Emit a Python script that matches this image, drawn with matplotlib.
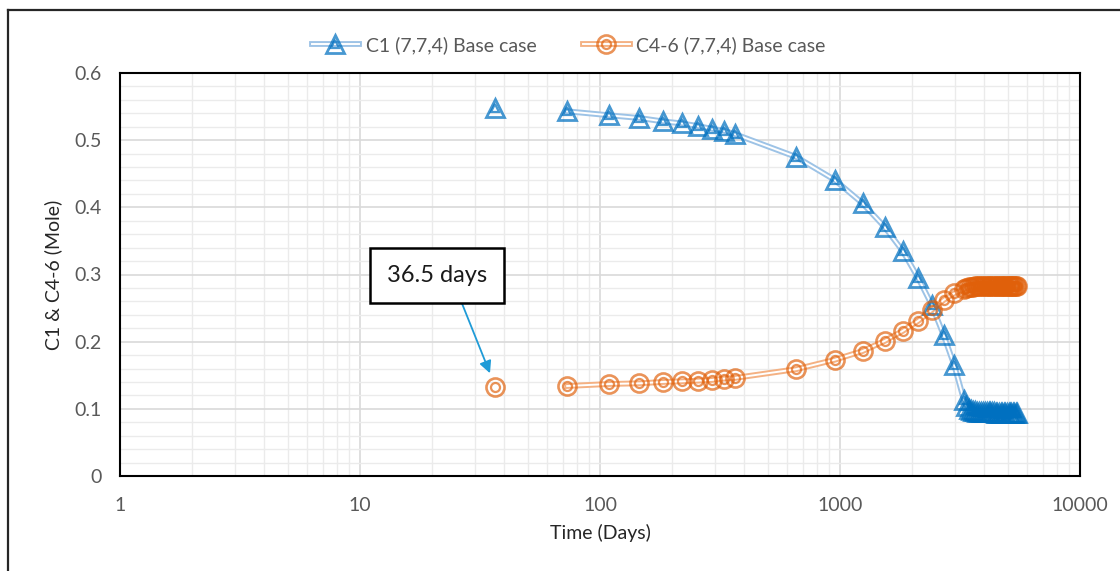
import matplotlib
matplotlib.use("Agg")
import matplotlib.pyplot as plt
import matplotlib.patheffects as pe
from matplotlib.lines import Line2D
from matplotlib.ticker import FixedLocator, FixedFormatter, NullFormatter
from matplotlib.legend_handler import HandlerTuple

plt.rcParams['font.family'] = ['Lato', 'DejaVu Sans']

# time (days)
time_days = [36.5, 73, 109.5, 146, 182.5, 219, 255.5, 292, 328.5, 365,
             657, 949, 1241, 1533, 1825, 2117, 2409, 2701, 2993, 3285,
             3358, 3431, 3504, 3577, 3650, 3723, 3796, 3869, 3942, 4015,
             4088, 4161, 4234, 4307, 4380, 4453, 4526, 4599, 4672, 4745,
             4818, 4891, 4964, 5037, 5110, 5183, 5256, 5329, 5402, 5475]

# C1 mole fraction
c1 = [0.548, 0.543, 0.537, 0.533, 0.528, 0.525, 0.521, 0.517, 0.514, 0.509,
      0.475, 0.441, 0.406, 0.371, 0.335, 0.295, 0.255, 0.210, 0.165, 0.113,
      0.104, 0.100, 0.098, 0.097, 0.097, 0.096, 0.096, 0.096, 0.095, 0.095,
      0.095, 0.095, 0.095, 0.095, 0.095, 0.094, 0.094, 0.094, 0.094, 0.094,
      0.094, 0.094, 0.094, 0.094, 0.094, 0.094, 0.094, 0.094, 0.094, 0.094]

# C4-6 mole fraction
c46 = [0.132, 0.134, 0.137, 0.138, 0.140, 0.141, 0.142, 0.143, 0.145, 0.146,
       0.159, 0.173, 0.186, 0.201, 0.216, 0.231, 0.247, 0.262, 0.272, 0.278,
       0.280, 0.281, 0.282, 0.282, 0.283, 0.283, 0.283, 0.283, 0.283, 0.283,
       0.283, 0.283, 0.283, 0.283, 0.283, 0.283, 0.283, 0.283, 0.283, 0.283,
       0.283, 0.283, 0.283, 0.283, 0.283, 0.283, 0.283, 0.283, 0.283, 0.283]

x_ticks = [1, 10, 100, 1000, 10000]
x_labels = ['1', '10', '100', '1000', '10000']
y_ticks = [0, 0.1, 0.2, 0.3, 0.4, 0.5, 0.6]
y_labels = ['0', '0.1', '0.2', '0.3', '0.4', '0.5', '0.6']

blue = '#0070C0'
orange = '#E0600A'
blue_line = '#9DC3E6'
orange_line = '#F4B183'
txt = '#595959'

fig = plt.figure(figsize=(11.2, 5.71), dpi=100)
ax = fig.add_axes([120/1120, 1-476/571, 960/1120, 403/571])

# double (compound) lines
def dbl(col):
    return [pe.Stroke(linewidth=4.2, foreground=col), pe.Stroke(linewidth=1.4, foreground='white')]

l1, = ax.plot(time_days[1:], c1[1:], color=blue_line, lw=4.2, zorder=3)
l1.set_path_effects(dbl(blue_line))
l2, = ax.plot(time_days[1:], c46[1:], color=orange_line, lw=4.2, zorder=3)
l2.set_path_effects(dbl(orange_line))

# markers: outer + inner
m1o, = ax.plot(time_days, c1, ls='none', marker='^', ms=13.5, mfc='none', mec=blue,
               mew=2.0, alpha=0.72, zorder=4)
m1i, = ax.plot(time_days, c1, ls='none', marker='^', ms=6, mfc='none', mec=blue,
               mew=1.6, alpha=0.72, zorder=4)
m2o, = ax.plot(time_days, c46, ls='none', marker='o', ms=13, mfc='none', mec=orange,
               mew=1.9, alpha=0.68, zorder=4)
m2i, = ax.plot(time_days, c46, ls='none', marker='o', ms=6.5, mfc='none', mec=orange,
               mew=1.6, alpha=0.68, zorder=4)

ax.set_xscale('log')
ax.set_xlim(1, 10000)
ax.set_ylim(0, 0.6)
ax.xaxis.set_major_locator(FixedLocator(x_ticks))
ax.xaxis.set_major_formatter(FixedFormatter(x_labels))
ax.xaxis.set_minor_locator(FixedLocator([m * 10**d for d in range(4) for m in range(2, 10)]))
ax.xaxis.set_minor_formatter(NullFormatter())
ax.yaxis.set_major_locator(FixedLocator(y_ticks))
ax.yaxis.set_major_formatter(FixedFormatter(y_labels))
ax.yaxis.set_minor_locator(FixedLocator([i * 0.02 for i in range(31)]))

ax.grid(which='major', color='#d9d9d9', lw=1.2, zorder=0)
ax.grid(which='minor', color='#ebebeb', lw=1.0, zorder=0)
ax.set_axisbelow(True)
ax.tick_params(which='both', length=0)
ax.tick_params(axis='y', pad=13, labelsize=14, labelcolor=txt)
ax.tick_params(axis='x', pad=15, labelsize=14, labelcolor=txt)
for s in ax.spines.values():
    s.set_color('black')
    s.set_linewidth(1.5)

ax.set_xlabel('Time (Days)', fontsize=14, color='#262626', labelpad=7)
ax.set_ylabel('C1 & C4-6 (Mole)', fontsize=14, color='#262626', labelpad=9)

# annotation box
ax.annotate('36.5 days', xy=(34.8, 0.153), xytext=(20.9, 0.299),
            fontsize=17, color='#1a1a1a', ha='center', va='center',
            bbox=dict(boxstyle='square,pad=0.72', fc='white', ec='black', lw=1.8),
            arrowprops=dict(arrowstyle='-|>', color='#1f9bd7', lw=1.3,
                            mutation_scale=18, relpos=(0.68, 0), shrinkA=0, shrinkB=0),
            zorder=6)

# legend
h1 = Line2D([], [], color=blue_line, lw=4.2)
h1.set_path_effects(dbl(blue_line))
h2 = Line2D([], [], color=orange_line, lw=4.2)
h2.set_path_effects(dbl(orange_line))
leg = fig.legend([(h1, m1o, m1i), (h2, m2o, m2i)],
                 ['C1 (7,7,4) Base case', 'C4-6 (7,7,4) Base case'],
                 handler_map={tuple: HandlerTuple(ndivide=1, pad=0)},
                 loc='center', bbox_to_anchor=(0.508, 1-45/571), ncol=2, frameon=False,
                 fontsize=14, handlelength=2.4, columnspacing=2.4, handletextpad=0.35)
for t in leg.get_texts():
    t.set_color(txt)

# outer chart frame (cropped)
fig.add_artist(Line2D([8/1120, 8/1120], [0, 1-10/571], transform=fig.transFigure,
                      color='#262626', lw=1.6))
fig.add_artist(Line2D([8/1120, 1], [1-10/571, 1-10/571], transform=fig.transFigure,
                      color='#262626', lw=1.6))

fig.savefig('out.png', dpi=100)
